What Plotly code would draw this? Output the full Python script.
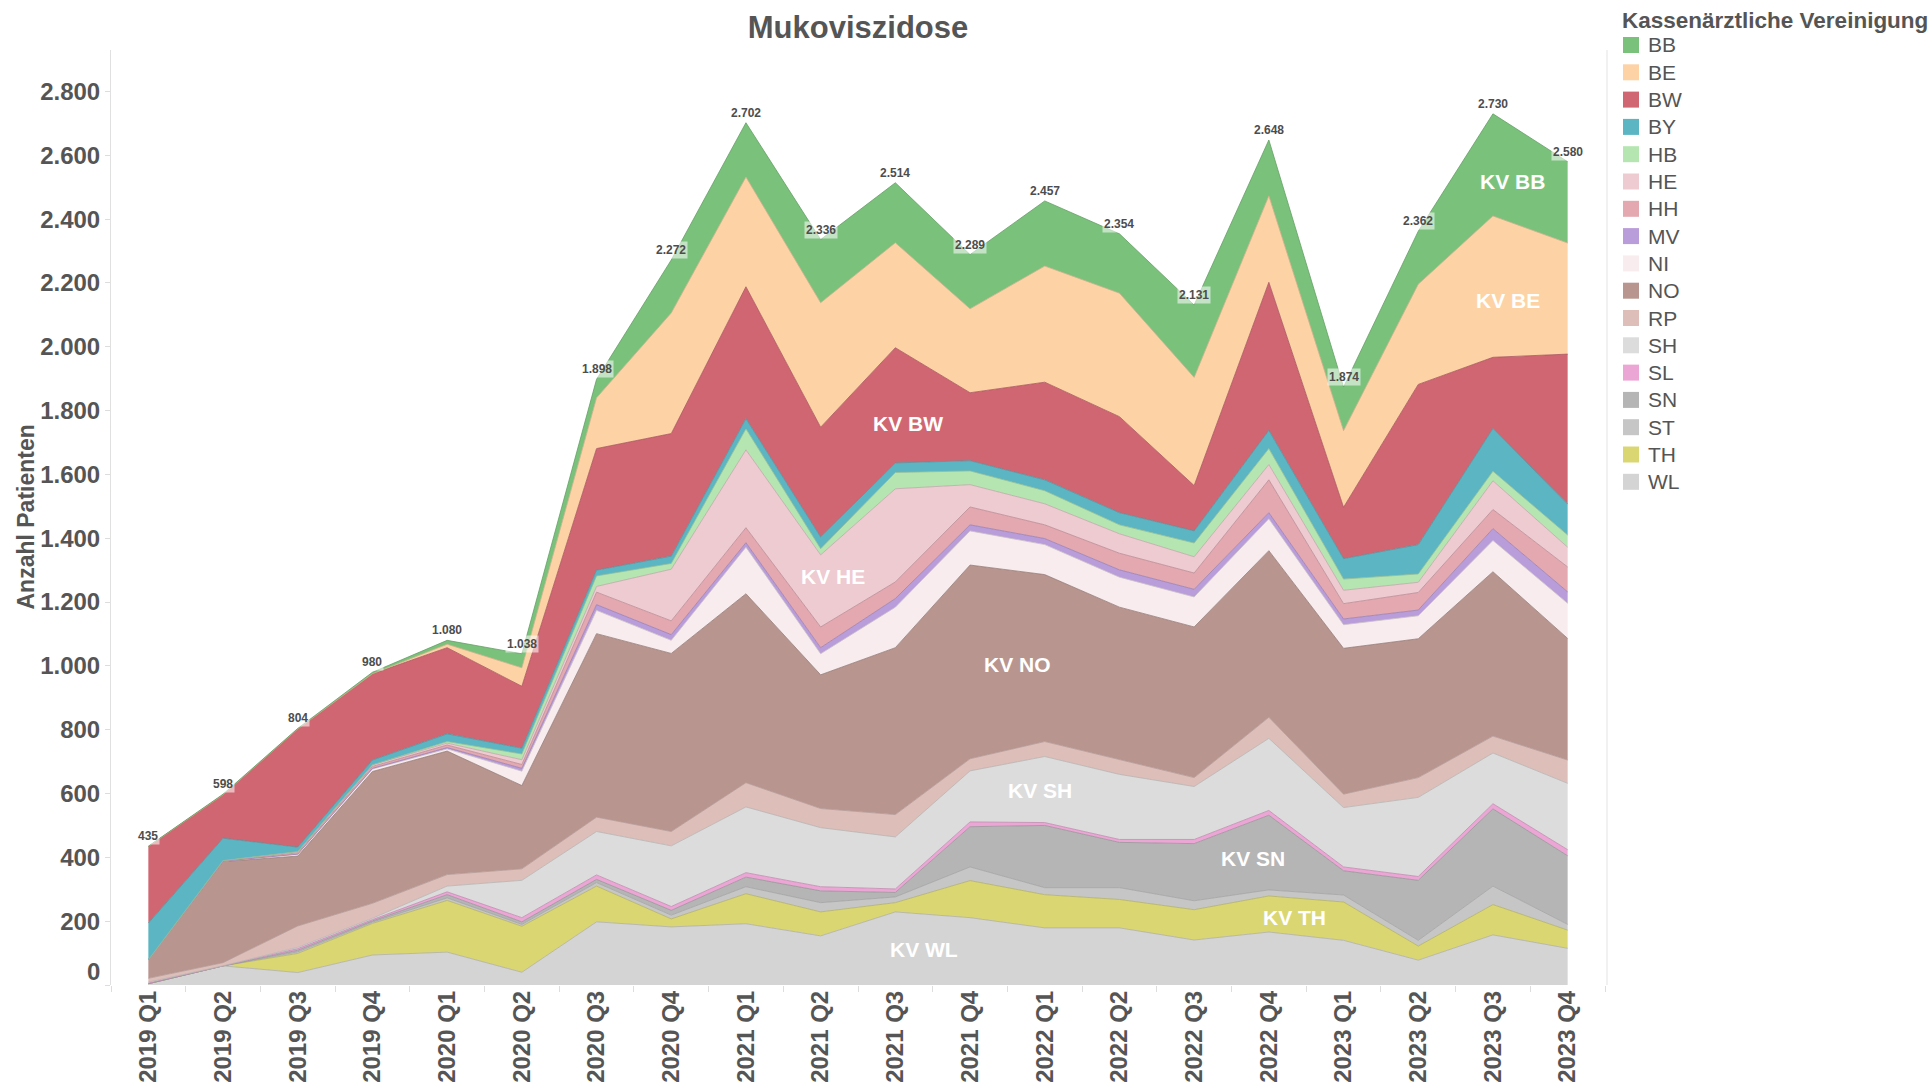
import plotly.graph_objects as go

# Quarters on the x axis
quarters = [
    "2019 Q1", "2019 Q2", "2019 Q3", "2019 Q4",
    "2020 Q1", "2020 Q2", "2020 Q3", "2020 Q4",
    "2021 Q1", "2021 Q2", "2021 Q3", "2021 Q4",
    "2022 Q1", "2022 Q2", "2022 Q3", "2022 Q4",
    "2023 Q1", "2023 Q2", "2023 Q3", "2023 Q4",
]

# Patients per Kassenärztliche Vereinigung and quarter
bb = [1, 2, 2, 5, 12, 44, 58, 166, 170, 198, 188, 170, 204, 186, 227, 175, 137, 166, 320, 255]
be = [0, 0, 0, 0, 11, 58, 159, 378, 344, 390, 329, 263, 364, 387, 339, 271, 240, 314, 443, 348]
bw = [240, 136, 370, 270, 270, 194, 381, 384, 413, 344, 361, 213, 306, 301, 142, 464, 161, 502, 223, 470]
by = [115, 70, 14, 15, 24, 18, 18, 23, 32, 37, 30, 32, 34, 38, 38, 57, 64, 92, 134, 97]
hb = [0, 0, 0, 0, 5, 18, 33, 18, 66, 19, 51, 43, 41, 28, 43, 50, 35, 26, 30, 38]
he = [0, 1, 4, 5, 6, 15, 18, 162, 244, 226, 292, 70, 66, 61, 51, 48, 42, 32, 90, 62]
hh = [0, 1, 4, 6, 8, 12, 39, 43, 47, 65, 52, 56, 43, 52, 51, 103, 48, 55, 60, 78]
mv = [0, 0, 0, 2, 4, 9, 18, 18, 14, 19, 27, 19, 19, 23, 24, 19, 18, 18, 37, 36]
ni = [0, 1, 6, 8, 7, 45, 73, 41, 146, 66, 127, 107, 94, 94, 94, 100, 74, 72, 98, 110]
no = [58, 317, 219, 413, 387, 261, 575, 558, 592, 419, 523, 607, 523, 477, 472, 522, 457, 435, 515, 381]
rp = [12, 10, 67, 47, 36, 36, 45, 45, 76, 60, 70, 38, 47, 47, 28, 66, 42, 62, 53, 73]
sh = [3, 0, 4, 4, 18, 117, 136, 190, 206, 185, 163, 160, 207, 204, 166, 226, 186, 248, 159, 208]
sl = [2, 0, 5, 4, 9, 13, 14, 12, 14, 13, 11, 15, 9, 9, 13, 15, 12, 12, 16, 19]
sn = [0, 0, 5, 4, 10, 8, 10, 15, 30, 37, 14, 126, 195, 142, 179, 234, 76, 188, 242, 215]
st = [0, 0, 5, 4, 8, 6, 11, 12, 22, 29, 18, 43, 22, 37, 28, 19, 22, 18, 58, 18]
th = [0, 0, 60, 99, 162, 144, 112, 25, 94, 75, 29, 116, 104, 89, 95, 113, 120, 44, 95, 57]
wl = [4, 60, 39, 94, 103, 40, 198, 182, 192, 154, 229, 211, 179, 179, 141, 166, 140, 78, 157, 115]

kv_codes = ["BB", "BE", "BW", "BY", "HB", "HE", "HH", "MV", "NI",
            "NO", "RP", "SH", "SL", "SN", "ST", "TH", "WL"]
series = {
    "BB": bb, "BE": be, "BW": bw, "BY": by, "HB": hb, "HE": he, "HH": hh,
    "MV": mv, "NI": ni, "NO": no, "RP": rp, "SH": sh, "SL": sl, "SN": sn,
    "ST": st, "TH": th, "WL": wl,
}
colors = {
    "BB": "#7AC27C", "BE": "#FDD3A6", "BW": "#D06672", "BY": "#5CB5C3",
    "HB": "#B5E6B1", "HE": "#EECAD1", "HH": "#E4A8B1", "MV": "#B99CDA",
    "NI": "#F8ECEF", "NO": "#B8958F", "RP": "#DDBEB9", "SH": "#DCDCDC",
    "SL": "#ECA6D6", "SN": "#B5B5B5", "ST": "#C6C6C6", "TH": "#DAD772",
    "WL": "#D4D4D4",
}

# Labelled areas: (text, x position in quarter index, y value)
area_labels = [
    ("KV BB", 18.26, 2517), ("KV BE", 18.20, 2144), ("KV BW", 10.17, 1759),
    ("KV HE", 9.17, 1279), ("KV NO", 11.63, 1003), ("KV SH", 11.94, 611),
    ("KV SN", 14.79, 395), ("KV TH", 15.34, 213), ("KV WL", 10.38, 110),
]

y_ticks = list(range(0, 2801, 200))

FONT = "Liberation Sans, Arial, sans-serif"
GREY = "#555555"
W, H = 1932, 1091
PL, PR, PT, PB = 111, 1605, 50, 985   # plot area in pixels


def darker(hex_color, f=0.82):
    r, g, b = (int(hex_color[i:i + 2], 16) for i in (1, 3, 5))
    return "rgb({},{},{})".format(int(r * f), int(g * f), int(b * f))


def px_x(px):
    return (px - PL) / (PR - PL)


def px_y(py):
    return (PB - py) / (PB - PT)


def fmt(v):
    return "{:,}".format(v).replace(",", ".")


fig = go.Figure()

# Stacked areas: bottom layer first
for code in reversed(kv_codes):
    fig.add_trace(go.Scatter(
        x=quarters, y=series[code], name=code, stackgroup="kv",
        mode="lines", line=dict(width=0.8, color=darker(colors[code])),
        fillcolor=colors[code], showlegend=False,
        hovertemplate="KV " + code + "<br>%{x}: %{y}<extra></extra>",
    ))

annotations = []

# Quarter totals above the stack
totals = [sum(series[c][i] for c in kv_codes) for i in range(len(quarters))]
for q, t in zip(quarters, totals):
    annotations.append(dict(
        x=q, y=t, xref="x", yref="y", text="<b>" + fmt(t) + "</b>",
        showarrow=False, yanchor="bottom", yshift=1,
        font=dict(family=FONT, size=12, color="#4d4d4d"),
        bgcolor="rgba(255,255,255,0.55)", borderpad=1,
    ))

# Labels inside the areas
for text, xi, yv in area_labels:
    annotations.append(dict(
        x=xi, y=yv, xref="x", yref="y", text="<b>" + text + "</b>",
        showarrow=False, font=dict(family=FONT, size=21, color="white"),
    ))

# "0" tick label sits slightly above the axis bottom
annotations.append(dict(
    x=px_x(PL - 9), y=0, xref="paper", yref="y", text="<b>0</b>",
    showarrow=False, xanchor="right", yanchor="middle", yshift=14,
    font=dict(family=FONT, size=24, color=GREY),
))

# Y axis title
annotations.append(dict(
    x=px_x(25), y=0.5, xref="paper", yref="paper",
    text="<b>Anzahl Patienten</b>", textangle=-90, showarrow=False,
    xanchor="center", yanchor="middle",
    font=dict(family=FONT, size=23, color=GREY),
))

# Legend drawn as squares and labels
shapes = []
annotations.append(dict(
    x=px_x(1620), y=px_y(20), xref="paper", yref="paper",
    text="<b>Kassenärztliche Vereinigung</b>", showarrow=False,
    xanchor="left", yanchor="middle",
    font=dict(family=FONT, size=22.5, color=GREY),
))
for i, code in enumerate(kv_codes):
    cy = 45 + 27.3 * i
    shapes.append(dict(
        type="rect", xref="paper", yref="paper",
        x0=px_x(1623), x1=px_x(1639), y0=px_y(cy + 8), y1=px_y(cy - 8),
        fillcolor=colors[code], line=dict(width=0),
    ))
    annotations.append(dict(
        x=px_x(1646), y=px_y(cy), xref="paper", yref="paper", text=code,
        showarrow=False, xanchor="left", yanchor="middle",
        font=dict(family=FONT, size=21, color=GREY),
    ))

# Right border of the plot pane
shapes.append(dict(
    type="line", xref="paper", yref="paper", x0=px_x(1607), x1=px_x(1607),
    y0=0, y1=1, line=dict(color="#e3e3e3", width=1),
))

fig.update_layout(
    width=W, height=H,
    margin=dict(l=PL, r=W - PR, t=PT, b=H - PB, autoexpand=False),
    paper_bgcolor="white", plot_bgcolor="white",
    font=dict(family=FONT, color=GREY),
    title=dict(
        text="<b>Mukoviszidose</b>", x=px_x(858), xref="paper",
        y=1 - 27 / H, yref="container", xanchor="center", yanchor="middle",
        font=dict(family=FONT, size=31, color=GREY),
    ),
    xaxis=dict(
        type="category", range=[-0.5, len(quarters) - 0.5],
        tickangle=-90, tickson="boundaries", ticks="outside", ticklen=6,
        tickcolor="#dddddd", showgrid=False, zeroline=False, showline=False,
        tickfont=dict(family=FONT, size=24, color=GREY),
        tickprefix="<b>", ticksuffix="</b>",
    ),
    yaxis=dict(
        range=[0, 2930], tickvals=y_ticks,
        ticktext=[""] + ["<b>" + fmt(v) + "</b>" for v in y_ticks[1:]],
        ticks="outside", ticklen=5, tickcolor="#dddddd",
        showgrid=False, zeroline=False, showline=True,
        linecolor="#e0e0e0", linewidth=1,
        tickfont=dict(family=FONT, size=24, color=GREY),
    ),
    annotations=annotations, shapes=shapes, showlegend=False,
)

fig.write_html("out.html")
